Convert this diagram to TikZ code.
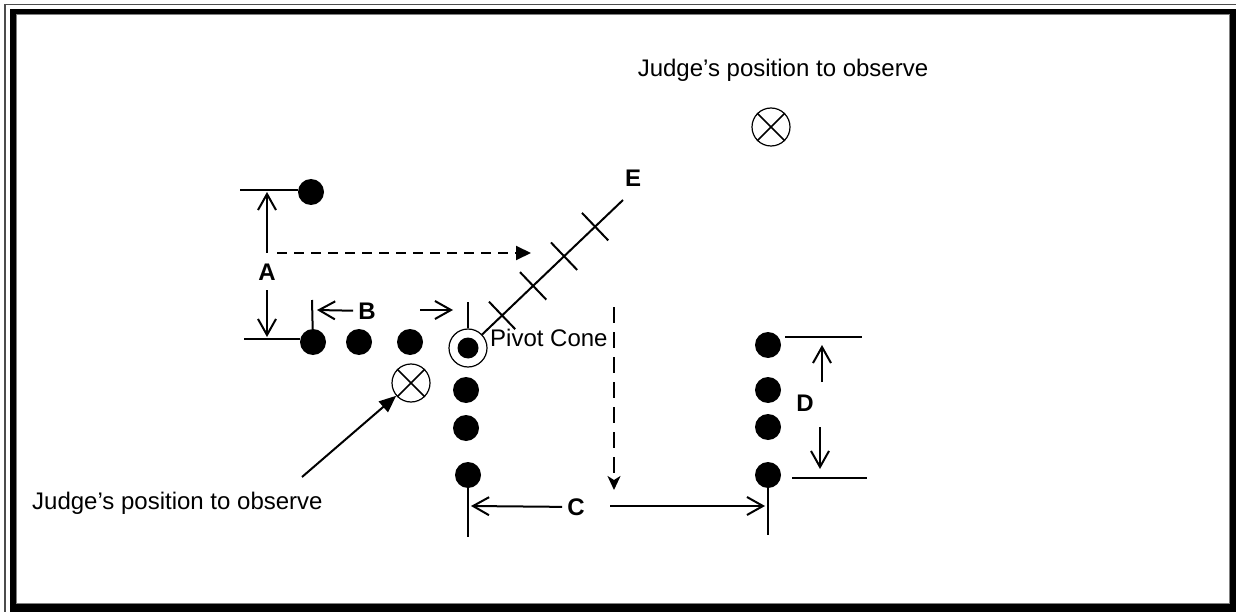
\documentclass[tikz,border=0pt]{standalone}
\usepackage{fontspec}
\setmainfont{Liberation Sans}
\usepackage{tikz}
\usetikzlibrary{arrows.meta,calc}

\tikzset{
  cone/.style={circle, fill=black, inner sep=0pt, minimum size=26pt},
  judge/.style={circle, draw=black, line width=1.2pt, inner sep=0pt, minimum size=38pt},
  letter/.style={inner sep=0pt, font=\fontsize{24}{24}\selectfont\bfseries},
  words/.style={inner sep=0pt, font=\fontsize{24}{24}\selectfont},
  measure/.style={line width=2pt, -{Straight Barb[length=16pt,width=18pt]}},
  tick/.style={line width=2pt},
  walk/.style={line width=2pt, dash pattern=on 10pt off 7pt, -{Triangle[length=15pt,width=14pt]}},
  drop/.style={line width=2pt, dash pattern=on 16pt off 9pt, -{Stealth[length=14pt,width=13pt,inset=4pt]}}
}

\begin{document}
\begin{tikzpicture}[x=1pt, y=-1pt]

  \useasboundingbox (0,0) rectangle (1236,612);

  % Draw the frame
  \fill[black] (10,9) rectangle (1236,612);
  \fill[white] (16,15) rectangle (1229,603);
  \draw[gray, line width=1pt] (16,15) rectangle (1229,603);
  \draw[gray!60!black, line width=1.5pt] (5,620) -- (5,4.5) -- (1240,4.5);

  % Cones
  \node[cone] (lone) at (311,192) {};
  \node[cone] (r1) at (313,342) {};
  \node[cone] (r2) at (359,342) {};
  \node[cone] (r3) at (410,342) {};
  \node[judge] (pivot) at (468,348) {};
  \node[cone, minimum size=21pt] (hub) at (pivot) {};
  \node[cone] (c1) at (466,390) {};
  \node[cone] (c2) at (466,428) {};
  \node[cone] (c3) at (468,475) {};
  \foreach \n/\y in {k1/345, k2/390, k3/427, k4/475}
    \node[cone] (\n) at (768,\y) {};

  % Judge positions
  \node[judge] (jtop) at (771,127) {};
  \node[judge] (jlow) at (411,383) {};
  \foreach \j in {jtop, jlow}
    \draw[line width=1.5pt] (\j.north west) -- (\j.south east)
                            (\j.north east) -- (\j.south west);

  % Texts
  \node[words] (ttop) at (783,70) {Judge’s position to observe};
  \node[words, anchor=west] (tlow) at (32,503) {Judge’s position to observe};
  \node[words, anchor=west] (tpiv) at (490,338) {Pivot Cone};

  % Letters
  \node[letter] (la) at (267,272) {A};
  \node[letter] (lb) at (367,311) {B};
  \node[letter] (lc) at (576,507) {C};
  \node[letter] (ld) at (805,403) {D};
  \node[letter] (le) at (633,178) {E};

  % Points for the measures
  \coordinate (aL1) at (240,190);  \coordinate (aR1) at (298,190);
  \coordinate (aL2) at (244,339);  \coordinate (aR2) at (300,339);
  \coordinate (aFromUp) at (267,253); \coordinate (aTop) at (267,192);
  \coordinate (aFromDown) at (267,290); \coordinate (aBot) at (267,337);
  \coordinate (bTickL) at (312,300); \coordinate (bTickR) at (468,302);
  \coordinate (bTipL) at (317,310);
  \coordinate (bFromR) at (420,310); \coordinate (bTipR) at (453,310);
  \coordinate (cTickL) at (468,537); \coordinate (cTickR) at (768,535);
  \coordinate (cTipL) at (471,506);
  \coordinate (cFromR) at (610,506); \coordinate (cTipR) at (765,506);
  \coordinate (dL1) at (785,337);  \coordinate (dR1) at (862,337);
  \coordinate (dL2) at (792,478);  \coordinate (dR2) at (867,478);
  \coordinate (dFromUp) at (822,382); \coordinate (dUp) at (822,345);
  \coordinate (dFromDown) at (820,427); \coordinate (dDown) at (820,469);
  \coordinate (eEnd) at (623,200);
  \coordinate (runA) at (277,253); \coordinate (runB) at (531,253);
  \coordinate (runC) at (614,307); \coordinate (runD) at (614,490);
  \coordinate (look) at (302,477);

  % A
  \draw[tick] (aL1) -- (aR1);
  \draw[tick] (aL2) -- (aR2);
  \draw[measure] (aFromUp) -- (aTop);
  \draw[measure] (aFromDown) -- (aBot);

  % B
  \draw[tick] (bTickL) -- (r1);
  \draw[tick] (bTickR) -- (pivot);
  \draw[measure, shorten <=5pt] (lb) -- (bTipL);
  \draw[measure] (bFromR) -- (bTipR);

  % C
  \draw[tick] (c3) -- (cTickL);
  \draw[tick] (k4) -- (cTickR);
  \draw[measure, shorten <=5pt] (lc) -- (cTipL);
  \draw[measure] (cFromR) -- (cTipR);

  % D
  \draw[tick] (dL1) -- (dR1);
  \draw[tick] (dL2) -- (dR2);
  \draw[measure] (dFromUp) -- (dUp);
  \draw[measure] (dFromDown) -- (dDown);

  % E line with the gates
  \draw[tick] (pivot) -- (eEnd);
  \foreach \t in {0.22, 0.42, 0.62, 0.82} {
    \coordinate (m) at ($(pivot)!\t!(eEnd)$);
    \draw[tick] ($(m)!19pt!90:(eEnd)$) -- ($(m)!19pt!-90:(eEnd)$);
  }

  % Runs
  \draw[walk] (runA) -- (runB);
  \draw[drop] (runC) -- (runD);
  \draw[line width=2pt, -{Triangle[length=17pt,width=14pt]}] (look) -- (jlow);

\end{tikzpicture}
\end{document}
